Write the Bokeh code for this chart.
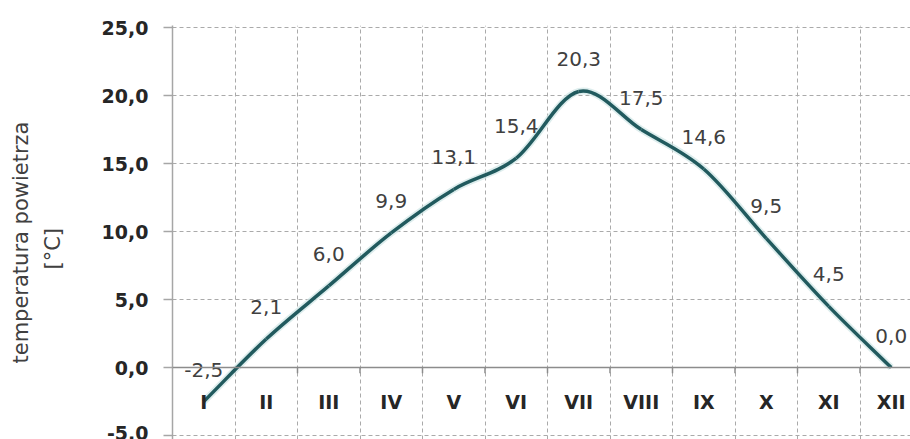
from bokeh.plotting import figure
from bokeh.models import Range1d, FixedTicker, CustomJSTickFormatter, Span, ColumnDataSource, Title
from bokeh.core.properties import value
from bokeh.embed import file_html
from bokeh.resources import INLINE

# ---- data ----
months = ["I", "II", "III", "IV", "V", "VI", "VII", "VIII", "IX", "X", "XI", "XII"]
temps = [-2.5, 2.1, 6.0, 9.9, 13.1, 15.4, 20.3, 17.5, 14.6, 9.5, 4.5, 0.0]
y_ticks = [-5, 0, 5, 10, 15, 20, 25]
y_label_lines = ["temperatura powietrza", "[°C]"]

FONT = "DejaVu Sans"
xs = list(range(len(months)))
bounds = [i + 0.5 for i in range(len(months) - 1)]

p = figure(width=910, height=439, output_backend="svg", toolbar_location=None,
           x_range=Range1d(-0.5, 11.308), y_range=Range1d(-5.29, 25.15),
           min_border_left=172, min_border_right=0, min_border_top=25, min_border_bottom=0)
p.outline_line_color = None
p.background_fill_color = "white"

# axes
p.xaxis.visible = False
ya = p.yaxis[0]
ya.ticker = FixedTicker(ticks=y_ticks)
ya.formatter = CustomJSTickFormatter(code="return tick.toFixed(1).replace('.', ',');")
ya.axis_line_color = "#a6a6a6"
ya.axis_line_width = 1.5
ya.major_tick_line_color = "#a6a6a6"
ya.major_tick_line_width = 1.5
ya.major_tick_out = 9
ya.major_tick_in = 0
ya.minor_tick_line_color = None
ya.major_label_text_font = FONT
ya.major_label_text_font_style = "bold"
ya.major_label_text_font_size = "19px"
ya.major_label_text_color = "#262626"
ya.major_label_standoff = 15
# invisible spacer label between tick labels and the two-line title
ya.axis_label = " "
ya.axis_label_text_font_size = "1px"
ya.axis_label_standoff = 30

# axis title (two rotated lines, in the left panel)
for txt, so, off in zip(reversed(y_label_lines), [0, 12], [170, 76]):
    p.add_layout(Title(text=txt, align="left", offset=off, standoff=so,
                       text_font=FONT, text_font_size="21px", text_font_style="normal",
                       text_color="#404040"), "left")

# grids
p.ygrid.ticker = FixedTicker(ticks=[t for t in y_ticks if t != 0])
p.ygrid.grid_line_color = "#aaaaaa"
p.ygrid.grid_line_dash = "4 3"
p.ygrid.grid_line_width = 1
p.xgrid.ticker = FixedTicker(ticks=bounds)
p.xgrid.grid_line_color = "#aaaaaa"
p.xgrid.grid_line_dash = "4 3"
p.xgrid.grid_line_width = 1

# zero line with small ticks below
p.add_layout(Span(location=0, dimension="width", line_color="#8c8c8c", line_width=1.5))
p.segment(x0=bounds, y0=[0] * len(bounds), x1=bounds, y1=[-0.42] * len(bounds),
          line_color="#8c8c8c", line_width=1.5)

# smoothed line (Catmull-Rom -> cubic Bezier through the data points)
n = len(xs)
tx, ty = [], []
for i in range(n):
    a = max(i - 1, 0)
    b = min(i + 1, n - 1)
    sc = 0.5 if (0 < i < n - 1) else 1.0
    tx.append((xs[b] - xs[a]) * sc)
    ty.append((temps[b] - temps[a]) * sc)
seg = dict(x0=xs[:-1], y0=temps[:-1], x1=xs[1:], y1=temps[1:],
           cx0=[xs[i] + tx[i] / 3 for i in range(n - 1)],
           cy0=[temps[i] + ty[i] / 3 for i in range(n - 1)],
           cx1=[xs[i + 1] - tx[i + 1] / 3 for i in range(n - 1)],
           cy1=[temps[i + 1] - ty[i + 1] / 3 for i in range(n - 1)])
src = ColumnDataSource(seg)
p.bezier(x0="x0", y0="y0", x1="x1", y1="y1", cx0="cx0", cy0="cy0", cx1="cx1", cy1="cy1",
         source=src, line_color="#cfe6e6", line_width=7, line_alpha=0.7)
p.bezier(x0="x0", y0="y0", x1="x1", y1="y1", cx0="cx0", cy0="cy0", cx1="cx1", cy1="cy1",
         source=src, line_color="#215a5e", line_width=3.5)

# data labels
labels = [f"{v:.1f}".replace(".", ",") for v in temps]
p.text(x=xs, y=temps, text=labels, y_offset=-32, text_align="center", text_baseline="middle",
       text_font=value(FONT), text_font_size="20px", text_color="#404040")

# category labels just below the zero line
p.text(x=xs, y=[0] * n, text=months, y_offset=34, text_align="center", text_baseline="middle",
       text_font=value(FONT), text_font_style="bold", text_font_size="19px", text_color="#262626")

open("out.html", "w").write(file_html(p, INLINE))
